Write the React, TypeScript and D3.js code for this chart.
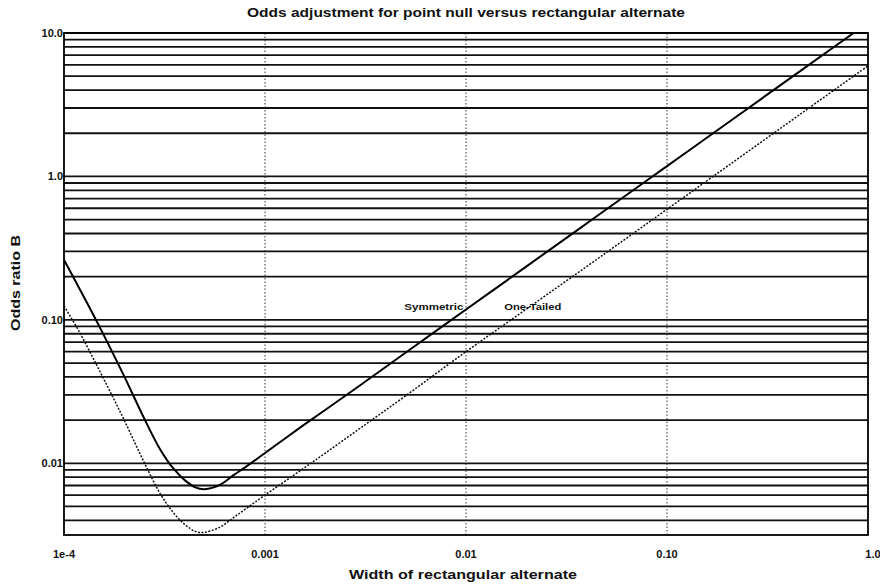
import React from "react";
import * as d3 from "d3";

const widths = [1e-4, 1.2e-4, 1.45e-4, 1.7e-4, 2e-4, 2.5e-4, 3e-4, 3.5e-4, 4e-4, 4.5e-4, 5e-4, 6e-4, 7e-4, 8e-4, 1e-3, 1.5e-3, 2e-3, 3e-3, 5e-3, 0.01, 0.02, 0.05, 0.1, 0.2, 0.5, 1.0];
const symmetric = [0.262, 0.163, 0.0985, 0.0635, 0.04, 0.0207, 0.0126, 0.0092, 0.0076, 0.0068, 0.0066, 0.0071, 0.0083, 0.0094, 0.0118, 0.0178, 0.0236, 0.0353, 0.059, 0.118, 0.236, 0.59, 1.18, 2.36, 5.9, 11.8];
const oneTailed = [0.125, 0.081, 0.0487, 0.0314, 0.0198, 0.0102, 0.0062, 0.00453, 0.00374, 0.00335, 0.0033, 0.0036, 0.0042, 0.0048, 0.006, 0.0089, 0.0118, 0.0177, 0.0295, 0.06, 0.119, 0.295, 0.59, 1.18, 2.95, 5.9];

const xTickValues = [1e-4, 1e-3, 1e-2, 1e-1, 1];
const xTickLabels = ["1e-4", "0.001", "0.01", "0.10", "1.0"];
const yTickValues = [10, 1, 0.1, 0.01];
const yTickLabels = ["10.0", "1.0", "0.10", "0.01"];

const title = "Odds adjustment for point null versus rectangular alternate";
const xTitle = "Width of rectangular alternate";
const yTitle = "Odds ratio B";

export default function App() {
  const W = 880, H = 588;
  const left = 64, right = 868, top = 33, bottom = 535;
  const x = d3.scaleLog().domain([1e-4, 1]).range([left, right]);
  const y = d3.scaleLog().domain([Math.pow(10, -2.5), 10]).range([bottom, top]);
  const gridY = y.ticks();
  const font = "'Liberation Sans', Arial, Helvetica, sans-serif";
  const line = d3
    .line<number>()
    .x((_, i) => x(widths[i]))
    .y((d) => y(d))
    .curve(d3.curveCatmullRom.alpha(0.5));

  return (
    <svg width={W} height={H} style={{ position: "absolute", left: 0, top: 0, background: "#fff" }} fontFamily={font}>
      <defs>
        <clipPath id="plotclip">
          <rect x={left} y={top} width={right - left} height={bottom - top} />
        </clipPath>
      </defs>
      <rect x={0} y={0} width={W} height={H} fill="#fff" />
      <text x={(left + right) / 2} y={17} textAnchor="middle" fontSize={13.5} fontWeight="bold" fill="#111" textLength={438} lengthAdjust="spacingAndGlyphs">{title}</text>
      {gridY.map((v, i) => (
        <line key={"gy" + i} x1={left} x2={right} y1={y(v)} y2={y(v)} stroke="#111" strokeWidth={1.8} />
      ))}
      {xTickValues.slice(1, -1).map((v, i) => (
        <line key={"gx" + i} x1={x(v)} x2={x(v)} y1={top} y2={bottom} stroke="#333" strokeWidth={1} strokeDasharray="1.5,2" />
      ))}
      <g clipPath="url(#plotclip)">
        <path d={line(symmetric) || ""} fill="none" stroke="#000" strokeWidth={2} />
        <path d={line(oneTailed) || ""} fill="none" stroke="#111" strokeWidth={1.5} strokeDasharray="2,1.5" />
      </g>
      <rect x={left} y={top} width={right - left} height={bottom - top} fill="none" stroke="#000" strokeWidth={1.8} />
      {yTickValues.map((v, i) => (
        <text key={"yl" + i} x={left - 1} y={y(v) + 4} textAnchor="end" fontSize={11} fontWeight="bold" fill="#111">{yTickLabels[i]}</text>
      ))}
      {xTickValues.map((v, i) => (
        <text key={"xl" + i} x={x(v) + (i === xTickValues.length - 1 ? 5 : 0)} y={558} textAnchor="middle" fontSize={11} fontWeight="bold" fill="#111">{xTickLabels[i]}</text>
      ))}
      <text x={(left + right) / 2 - 3} y={579} textAnchor="middle" fontSize={13} fontWeight="bold" fill="#111" textLength={228} lengthAdjust="spacingAndGlyphs">{xTitle}</text>
      <text transform={`translate(20, ${283}) rotate(-90)`} textAnchor="middle" fontSize={13} fontWeight="bold" fill="#111" textLength={96} lengthAdjust="spacingAndGlyphs">{yTitle}</text>
      <text x={x(0.0097)} y={y(0.125) + 4} textAnchor="end" fontSize={9.5} fontWeight="bold" fill="#111" textLength={59} lengthAdjust="spacingAndGlyphs">Symmetric</text>
      <text x={x(0.0155)} y={y(0.125) + 4} textAnchor="start" fontSize={9.5} fontWeight="bold" fill="#111" textLength={57} lengthAdjust="spacingAndGlyphs">One-Tailed</text>
    </svg>
  );
}
